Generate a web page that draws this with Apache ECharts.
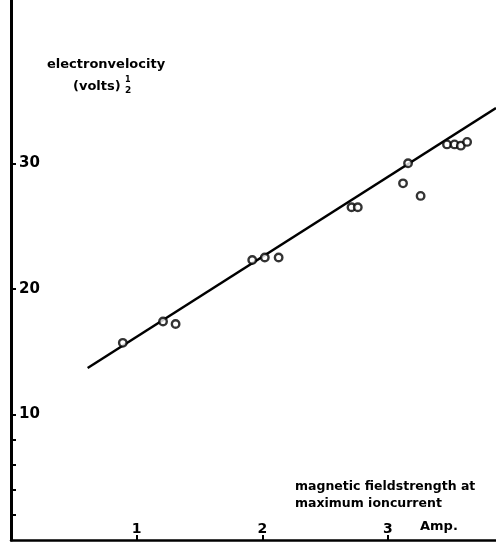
<!DOCTYPE html>
<html><head><meta charset="utf-8">
<script src="https://cdn.jsdelivr.net/npm/echarts@6/dist/echarts.min.js"></script>
<style>html,body{margin:0;padding:0;background:#fff}#c{width:496px;height:542px}</style>
</head><body><div id="c"></div>
<script>
// measured points: magnetic field strength (Amp) vs electron velocity (volts^1/2)
const fieldAmp = [0.89, 1.21, 1.31, 1.92, 2.02, 2.13, 2.71, 2.76, 3.12, 3.16, 3.26, 3.47, 3.53, 3.58, 3.63];
const velocity = [15.7, 17.4, 17.2, 22.3, 22.5, 22.5, 26.5, 26.5, 28.4, 30.0, 27.4, 31.5, 31.5, 31.4, 31.7];
// fitted straight line (end points)
const fitX = [0.61, 3.86];
const fitY = [13.7, 34.4];
const yTickLabels = [10, 20, 30];
const yTicks = [2, 4, 6, 8, 10, 20, 30];
const xTickLabels = [1, 2, 3];

const font = 'DejaVu Sans';
const chart = echarts.init(document.getElementById('c'), null, {renderer: 'canvas'});
chart.setOption({
  animation: false,
  backgroundColor: '#fff',
  grid: {left: 11, right: 0, top: 0, bottom: 2, containLabel: false},
  xAxis: {
    type: 'value', min: 0, max: 3.86,
    axisLine: {show: true, lineStyle: {color: '#000', width: 2.5}},
    axisTick: {show: true, inside: true, length: 5, customValues: xTickLabels, lineStyle: {color: '#000', width: 2}},
    axisLabel: {show: true, inside: true, margin: 4, customValues: xTickLabels, color: '#000', fontFamily: font, fontWeight: 'bold', fontSize: 14},
    splitLine: {show: false}
  },
  yAxis: {
    type: 'value', min: 0, max: 43,
    axisLine: {show: true, lineStyle: {color: '#000', width: 3}},
    axisTick: {show: true, inside: true, length: 5, customValues: yTicks, lineStyle: {color: '#000', width: 2}},
    axisLabel: {show: true, inside: true, margin: 8, customValues: yTickLabels, color: '#000', fontFamily: font, fontWeight: 'bold', fontSize: 15},
    splitLine: {show: false}
  },
  series: [
    {type: 'line', data: fitX.map((x, i) => [x, fitY[i]]), symbol: 'none',
     lineStyle: {color: '#000', width: 2.5}, z: 2},
    {type: 'scatter', data: fieldAmp.map((x, i) => [x, velocity[i]]), symbol: 'circle', symbolSize: 7.5,
     itemStyle: {color: '#fff', borderColor: '#000', borderWidth: 2.4}, z: 3}
  ],
  graphic: [
    {type: 'text', left: 47, top: 58, style: {text: 'electronvelocity', font: 'bold 13px ' + font, fill: '#000'}},
    {type: 'text', left: 73, top: 80, style: {text: '(volts)', font: 'bold 13px ' + font, fill: '#000'}},
    {type: 'text', left: 125, top: 76, style: {text: '1', font: 'bold 8px ' + font, fill: '#000'}},
    {type: 'text', left: 125, top: 86, style: {text: '2', font: 'bold 9px ' + font, fill: '#000'}},
    {type: 'text', left: 295, top: 480, style: {text: 'magnetic fieldstrength at', font: 'bold 12.5px ' + font, fill: '#000'}},
    {type: 'text', left: 295, top: 497, style: {text: 'maximum ioncurrent', font: 'bold 12.5px ' + font, fill: '#000'}},
    {type: 'text', left: 420, top: 520, style: {text: 'Amp.', font: 'bold 13px ' + font, fill: '#000'}}
  ]
});
</script></body></html>
